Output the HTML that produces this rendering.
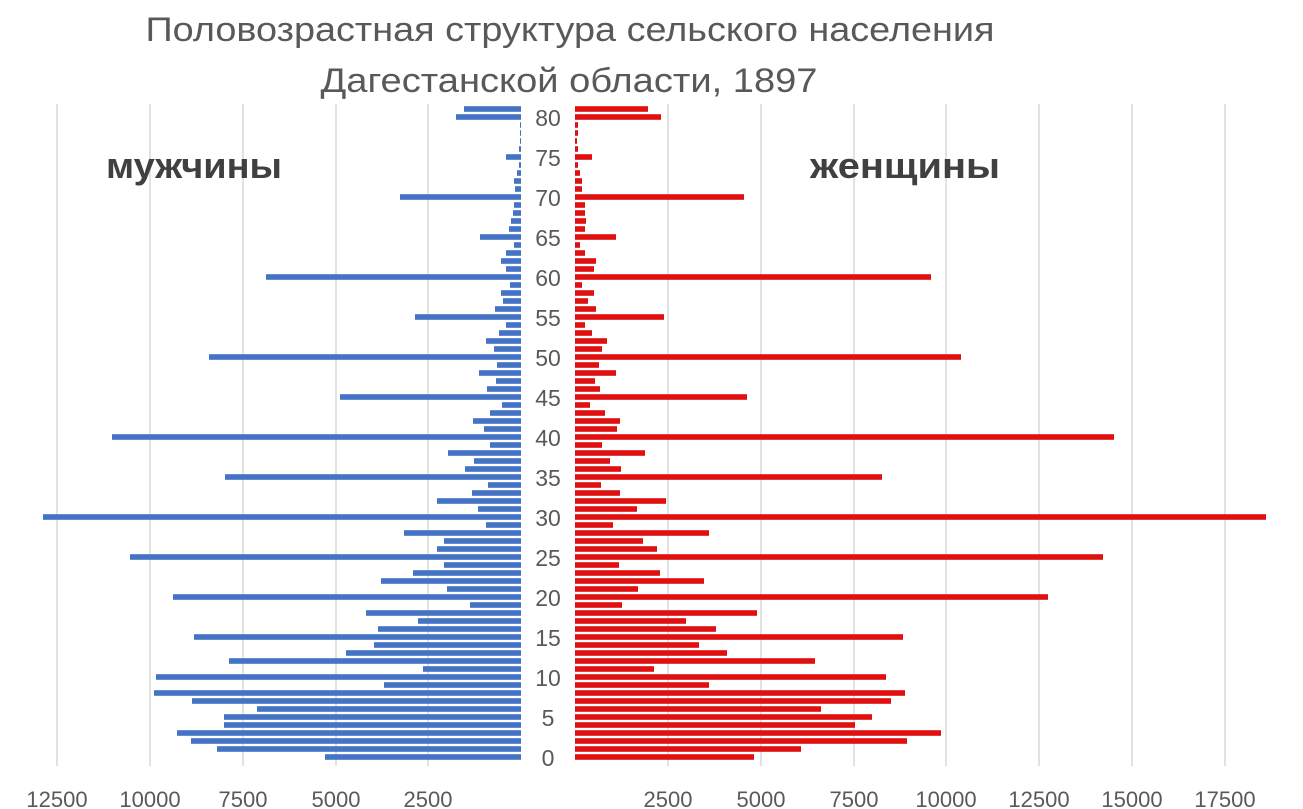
<!DOCTYPE html>
<html><head><meta charset="utf-8"><style>
html,body{margin:0;padding:0;background:#fff;}
svg{display:block;font-family:"Liberation Sans",sans-serif;}
</style></head><body>
<svg id="chart" width="1303" height="809" viewBox="0 0 1303 809" xmlns="http://www.w3.org/2000/svg">
<rect width="1303" height="809" fill="#fff"/>
<g stroke="#d9d9d9" stroke-width="1.5">
<line x1="57" y1="104" x2="57" y2="766"/><line x1="150" y1="104" x2="150" y2="766"/><line x1="243" y1="104" x2="243" y2="766"/><line x1="336" y1="104" x2="336" y2="766"/><line x1="428" y1="104" x2="428" y2="766"/>
<line x1="668" y1="104" x2="668" y2="766"/><line x1="761" y1="104" x2="761" y2="766"/><line x1="854" y1="104" x2="854" y2="766"/><line x1="946" y1="104" x2="946" y2="766"/><line x1="1039" y1="104" x2="1039" y2="766"/><line x1="1132" y1="104" x2="1132" y2="766"/><line x1="1225" y1="104" x2="1225" y2="766"/>
</g>
<g id="bars"></g>
<g fill="#595959" font-size="23" text-anchor="middle">
<text x="548" y="766">0</text><text x="548" y="726">5</text><text x="548" y="686">10</text><text x="548" y="646">15</text><text x="548" y="606">20</text><text x="548" y="566">25</text><text x="548" y="526">30</text><text x="548" y="486">35</text><text x="548" y="446">40</text><text x="548" y="406">45</text><text x="548" y="366">50</text><text x="548" y="326">55</text><text x="548" y="286">60</text><text x="548" y="246">65</text><text x="548" y="206">70</text><text x="548" y="166">75</text><text x="548" y="126">80</text>
</g>
<g fill="#595959" font-size="22" text-anchor="middle">
<text x="57" y="807">12500</text><text x="150" y="807">10000</text><text x="243" y="807">7500</text><text x="336" y="807">5000</text><text x="428" y="807">2500</text>
<text x="668" y="807">2500</text><text x="761" y="807">5000</text><text x="854" y="807">7500</text><text x="946" y="807">10000</text><text x="1039" y="807">12500</text><text x="1132" y="807">15000</text><text x="1225" y="807">17500</text>
</g>
<g fill="#595959" font-size="34" text-anchor="middle">
<text x="570" y="41" textLength="849" lengthAdjust="spacingAndGlyphs">Половозрастная структура сельского населения</text>
<text x="569" y="92" textLength="497" lengthAdjust="spacingAndGlyphs">Дагестанской области, 1897</text>
</g>
<g fill="#404040" font-size="36" font-weight="bold">
<text x="106" y="178" textLength="176" lengthAdjust="spacingAndGlyphs">мужчины</text>
<text x="810" y="178" textLength="190" lengthAdjust="spacingAndGlyphs">женщины</text>
</g>
</svg>
<script>
(function(){
var L=[325,217,191,177,224,224,257,192,154,384,156,423,229,346,374,194,378,418,366,470,173,447,381,413,444,130,437,444,404,486,43,478,437,472,488,225,465,474,448,490,112,484,473,490,502,340,487,496,479,497,209,494,486,499,506,415,495,503,501,510,266,506,501,506,514,480,509,511,513,514,400,515,514,517,519,506,519,520,520,520,456,464];
var R=[754,801,907,941,855,872,821,891,905,709,886,654,815,727,699,903,716,686,757,622,1048,638,704,660,619,1103,657,643,709,613,1266,637,666,620,601,882,621,610,645,602,1114,617,620,605,590,747,600,595,616,599,961,602,607,592,585,664,596,588,594,582,931,594,596,585,580,616,585,586,585,585,744,582,582,580,578,592,578,577,578,578,661,648];
var g=document.getElementById('bars');var ns='http://www.w3.org/2000/svg';
function r(x,y,w,c){var e=document.createElementNS(ns,'rect');e.setAttribute('x',x);e.setAttribute('y',y);e.setAttribute('width',w);e.setAttribute('height',5.6);e.setAttribute('fill',c);g.appendChild(e);}
for(var i=0;i<L.length;i++){var y=757-8*i-2.8;r(L[i],y,521-L[i],'#4472c4');r(575,y,R[i]-575,'#e01010');}
})();
</script>
</body></html>
